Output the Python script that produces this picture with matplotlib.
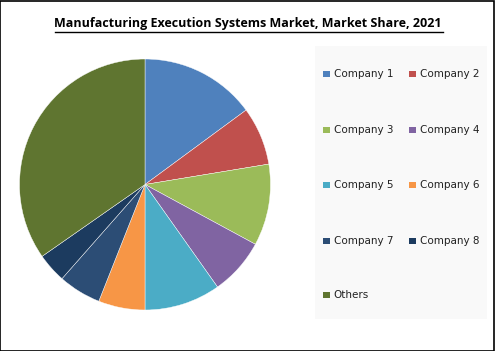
import matplotlib
matplotlib.use('Agg')
import matplotlib.pyplot as plt
from matplotlib.patches import Rectangle

# Доли рынка (%), читаются с картинки
companies = ['Company 1', 'Company 2', 'Company 3', 'Company 4', 'Company 5',
             'Company 6', 'Company 7', 'Company 8', 'Others']
shares = [14.9, 7.5, 10.5, 7.3, 9.8, 6.0, 5.5, 3.8, 34.7]
colors = ['#4F81BD', '#C0504D', '#9BBB59', '#8064A2', '#4BACC6',
          '#F79646', '#2C4D75', '#1C3B5F', '#5F7530']

W, H = 495, 351
fig = plt.figure(figsize=(W / 100, H / 100), dpi=100)
fig.patch.set_facecolor('white')

def px(x, y):
    # пиксели (от верхнего левого угла) -> доли фигуры
    return x / W, 1 - y / H

# рамка вокруг картинки
fig.add_artist(Rectangle((0.001, 0.001), 0.997, 0.996, transform=fig.transFigure,
                         fill=False, edgecolor='black', linewidth=1.2))

tx, ty = px(248, 24)
fig.text(tx, ty, 'Manufacturing Execution Systems Market, Market Share, 2021',
         ha='center', va='center', fontsize=9, fontweight='bold',
         family='Open Sans')
# подчеркивание заголовка
x0, uy = px(55, 31.5)
x1, _ = px(443, 31.5)
fig.add_artist(plt.Line2D([x0, x1], [uy, uy], transform=fig.transFigure,
                          color='black', linewidth=1))

# круговая диаграмма
cx, cy, r = 145, 184.5, 125.5
l, b = px(cx - r, cy + r)
ax = fig.add_axes([l, b, 2 * r / W, 2 * r / H])
ax.pie(shares, colors=colors, startangle=90, counterclock=False,
       wedgeprops=dict(linewidth=0.3, edgecolor='white'))
ax.set_xlim(-1, 1)
ax.set_ylim(-1, 1)
ax.set_aspect('equal')

# легенда вручную: две колонки, заполнение по строкам
bl, bb = px(315, 319)
fig.add_artist(Rectangle((bl, bb), 172 / W, 273 / H, transform=fig.transFigure,
                         facecolor='#F9F9F9', edgecolor='none', zorder=0))
row_y = [74, 130, 185, 241, 295]
col_x = [323, 409]
ms = 6.5
for i, (name, c) in enumerate(zip(companies, colors)):
    mx = col_x[i % 2]
    my = row_y[i // 2]
    ml, mb = px(mx, my + ms / 2)
    fig.add_artist(Rectangle((ml, mb), ms / W, ms / H, transform=fig.transFigure,
                             facecolor=c, edgecolor='none'))
    lx, ly = px(mx + ms + 4, my)
    fig.text(lx, ly, name, ha='left', va='center', fontsize=7.5,
             family='DejaVu Sans', color='#222222')

fig.savefig('out.png', dpi=100)
